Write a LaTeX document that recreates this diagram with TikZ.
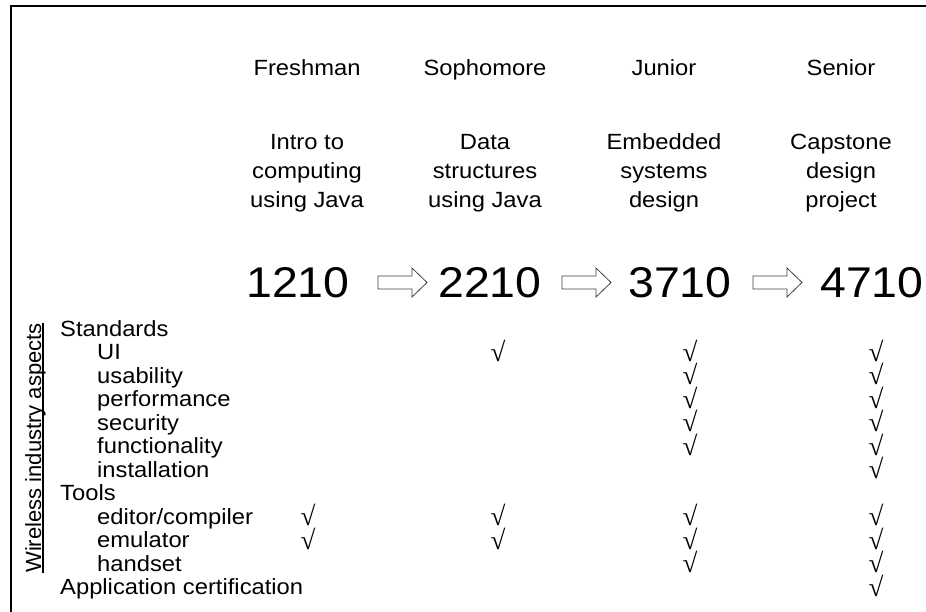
\documentclass[tikz,border=0pt]{standalone}
\usepackage{fontspec}
\setmainfont{Liberation Sans}[FakeStretch=1.08]
\newfontfamily\uprightsans{Liberation Sans}
\newfontfamily\tickfont{Liberation Serif}
\usepackage{tikz}

\begin{document}
\begin{tikzpicture}[x=1pt,y=-1pt]
\tikzstyle{every node}+=[inner sep=0pt]
\tikzstyle{year}=[anchor=base,font=\fontsize{22}{29}\selectfont]
\tikzstyle{course}=[anchor=base,align=center,font=\fontsize{22}{29}\selectfont]
\tikzstyle{number}=[anchor=base,font=\fontsize{43}{43}\selectfont]
\tikzstyle{topic}=[anchor=base west,font=\fontsize{22}{22}\selectfont]
\tikzstyle{okmark}=[font=\tickfont\fontsize{27}{27}\selectfont]
\tikzstyle{blockarrow}=[draw=black!75,fill=white,line width=0.8pt,line join=miter]
\useasboundingbox (0,0) rectangle (926,612);
\draw [black,line width=2.5pt] (926,6) -- (11,6) -- (11,612);
% years
\node [year] (fresh) at (307,76) {Freshman};
\node [year] (soph) at (485,76) {Sophomore};
\node [year] (jun) at (664,76) {Junior};
\node [year] (sen) at (841,76) {Senior};
% courses (base = last line)
\node [course] (intro) at (307,208) {Intro to\\computing\\using Java};
\node [course] (data) at (485,208) {Data\\structures\\using Java};
\node [course] (embed) at (664,208) {Embedded\\systems\\design};
\node [course] (cap) at (841,208) {Capstone\\design\\project};
% course numbers
\node [number] (n1210) at (298,298) {1210};
\node [number] (n2210) at (490,298) {2210};
\node [number] (n3710) at (680,298) {3710};
\node [number] (n4710) at (872,298) {4710};
\draw [blockarrow] (378,276) -- (412,276) -- (412,268) -- (427,282.5) -- (412,297) -- (412,289) -- (378,289) -- cycle;
\draw [blockarrow] (562,276) -- (596,276) -- (596,268) -- (611,282.5) -- (596,297) -- (596,289) -- (562,289) -- cycle;
\draw [blockarrow] (753,276) -- (787,276) -- (787,268) -- (802,282.5) -- (787,297) -- (787,289) -- (753,289) -- cycle;
% side label
\node [anchor=base,rotate=90,font=\uprightsans\fontsize{22}{22}\selectfont] (wia) at (41,448) {Wireless industry aspects};
\draw [black,line width=1.2pt] (43,323) -- (43,573);
% aspects
\node [topic] (std) at (60,336) {Standards};
\node [topic] (ui) at (97,359.5) {UI};
\node [topic] (usab) at (97,383) {usability};
\node [topic] (perf) at (97,406.5) {performance};
\node [topic] (sec) at (97,430) {security};
\node [topic] (func) at (97,453.5) {functionality};
\node [topic] (inst) at (97,477) {installation};
\node [topic] (tools) at (60,500.5) {Tools};
\node [topic] (edit) at (97,524) {editor/compiler};
\node [topic] (emu) at (97,547.5) {emulator};
\node [topic] (hand) at (97,571) {handset};
\node [topic] (cert) at (60,594.5) {Application certification};
% checks
\node [okmark] (ui2) at (498,350.5) {√};
\node [okmark] (ui3) at (690,350.5) {√};
\node [okmark] (ui4) at (876,350.5) {√};
\node [okmark] (usab3) at (690,374) {√};
\node [okmark] (usab4) at (876,374) {√};
\node [okmark] (perf3) at (690,397.5) {√};
\node [okmark] (perf4) at (876,397.5) {√};
\node [okmark] (sec3) at (690,421) {√};
\node [okmark] (sec4) at (876,421) {√};
\node [okmark] (func3) at (690,444.5) {√};
\node [okmark] (func4) at (876,444.5) {√};
\node [okmark] (inst4) at (876,468) {√};
\node [okmark] (edit1) at (308,515) {√};
\node [okmark] (edit2) at (498,515) {√};
\node [okmark] (edit3) at (690,515) {√};
\node [okmark] (edit4) at (876,515) {√};
\node [okmark] (emu1) at (308,538.5) {√};
\node [okmark] (emu2) at (498,538.5) {√};
\node [okmark] (emu3) at (690,538.5) {√};
\node [okmark] (emu4) at (876,538.5) {√};
\node [okmark] (hand3) at (690,562) {√};
\node [okmark] (hand4) at (876,562) {√};
\node [okmark] (cert4) at (876,585.5) {√};
\end{tikzpicture}
\end{document}
